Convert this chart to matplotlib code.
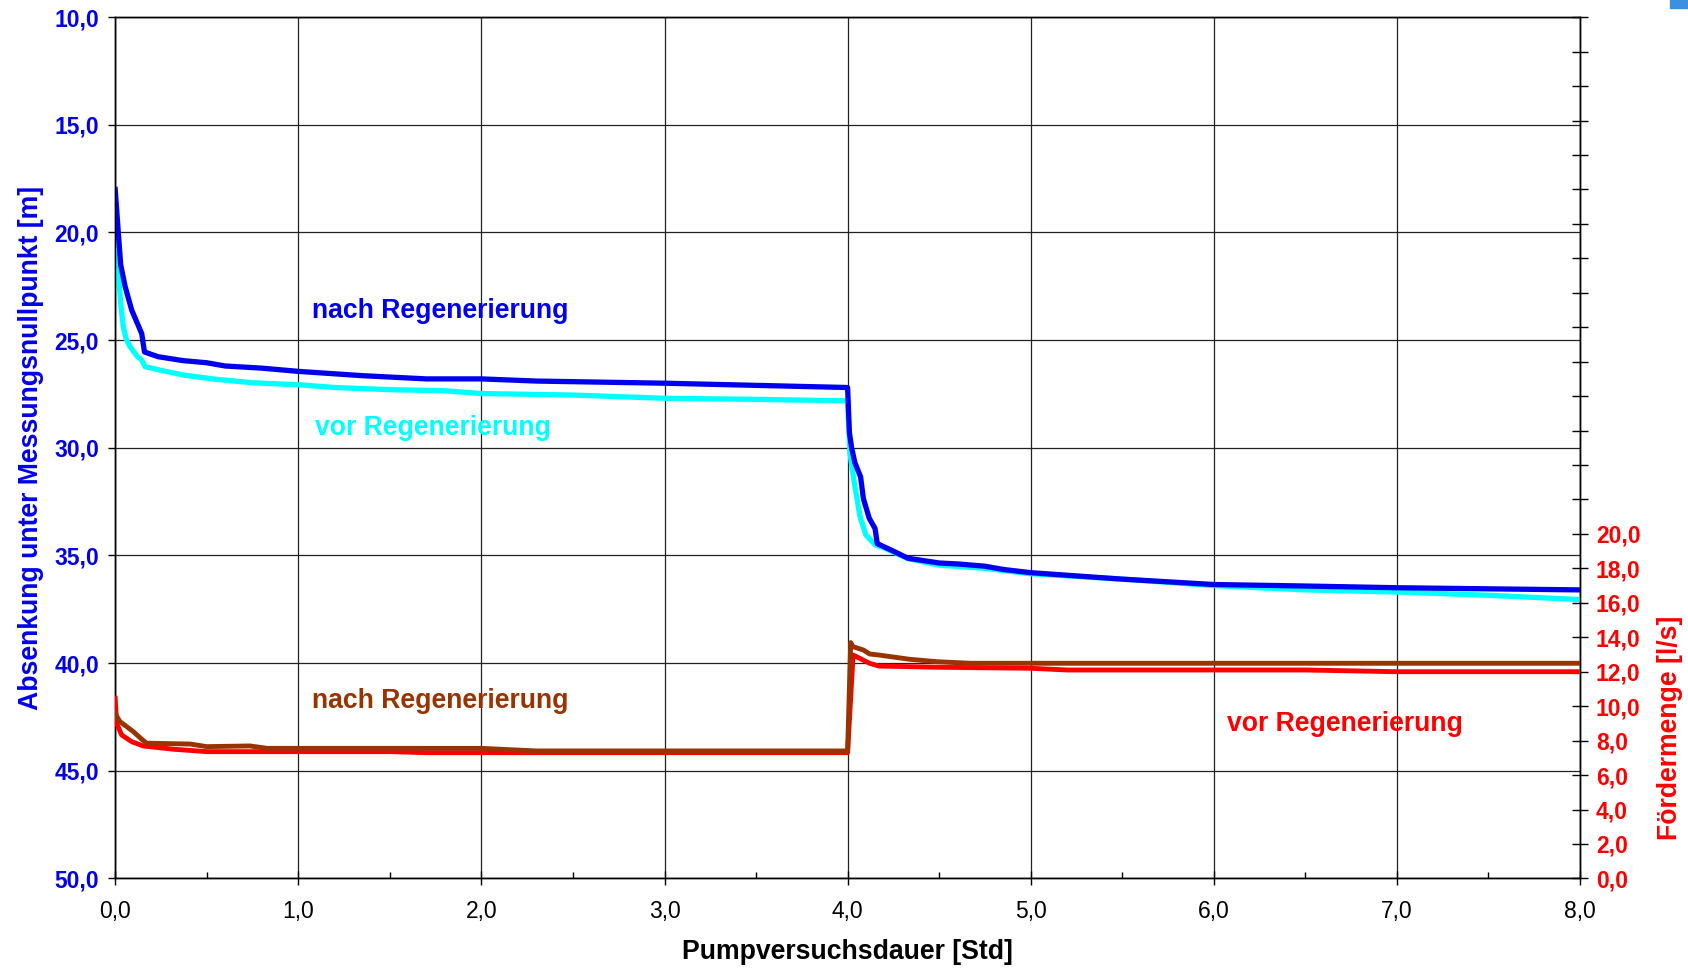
import matplotlib
matplotlib.use("Agg")
import matplotlib.pyplot as plt
from matplotlib.ticker import MultipleLocator, FixedLocator, FuncFormatter
from matplotlib.patches import Rectangle

plt.rcParams['font.family'] = ['Liberation Sans', 'DejaVu Sans']

# ---- data (time in hours) ----
t_nach_abs = [0.0, 0.017, 0.03, 0.054, 0.09, 0.12, 0.145, 0.16, 0.235, 0.37, 0.5, 0.6, 0.8,
              1.0, 1.35, 1.7, 2.0, 2.3, 3.0, 3.5, 4.0,
              4.01, 4.022, 4.04, 4.071, 4.086, 4.118, 4.15, 4.162, 4.25, 4.33, 4.5, 4.61,
              4.75, 4.85, 5.0, 5.5, 6.0, 6.5, 7.0, 7.5, 8.0]
abs_nach = [18.0, 20.0, 21.5, 22.5, 23.6, 24.2, 24.7, 25.55, 25.77, 25.95, 26.05, 26.2, 26.3,
            26.45, 26.65, 26.8, 26.8, 26.9, 27.0, 27.1, 27.2,
            29.3, 30.0, 30.7, 31.35, 32.35, 33.27, 33.75, 34.45, 34.8, 35.13, 35.35, 35.4,
            35.5, 35.65, 35.8, 36.1, 36.35, 36.42, 36.5, 36.55, 36.6]

t_vor_abs = [0.0, 0.017, 0.03, 0.044, 0.06, 0.081, 0.12, 0.145, 0.163, 0.25, 0.372, 0.554,
             0.75, 1.0, 1.2, 1.5, 1.8, 2.0, 2.5, 3.0, 3.5, 4.0,
             4.013, 4.04, 4.068, 4.10, 4.15, 4.2, 4.33, 4.5, 4.75, 5.0, 5.5, 6.0, 6.5,
             7.0, 7.5, 8.0]
abs_vor = [20.0, 21.74, 23.3, 24.37, 24.95, 25.3, 25.75, 25.92, 26.23, 26.4, 26.62, 26.82,
           26.98, 27.07, 27.2, 27.3, 27.35, 27.48, 27.55, 27.7, 27.75, 27.82,
           30.26, 31.8, 33.2, 34.05, 34.5, 34.65, 35.15, 35.45, 35.6, 35.85, 36.1, 36.4, 36.6,
           36.7, 36.85, 37.05]

t_nach_q = [0.0, 0.004, 0.026, 0.063, 0.099, 0.145, 0.172, 0.41, 0.5, 0.736, 0.83, 2.0, 2.3,
            4.0, 4.017, 4.03, 4.086, 4.12, 4.17, 4.34, 4.49, 4.67, 8.0]
q_nach = [9.6, 9.49, 9.1, 8.81, 8.52, 8.08, 7.85, 7.8, 7.65, 7.69, 7.55, 7.55, 7.4,
          7.4, 13.69, 13.45, 13.26, 13.03, 12.97, 12.72, 12.58, 12.49, 12.49]

t_vor_q = [0.0, 0.008, 0.035, 0.09, 0.153, 0.317, 0.5, 1.5, 1.7, 4.0,
           4.03, 4.12, 4.17, 4.49, 5.0, 5.2, 6.5, 7.0, 8.0]
q_vor = [10.46, 9.0, 8.33, 7.94, 7.69, 7.5, 7.36, 7.36, 7.3, 7.3,
         12.97, 12.49, 12.33, 12.26, 12.2, 12.1, 12.1, 12.0, 12.0]

x_ticks = [0, 1, 2, 3, 4, 5, 6, 7, 8]
left_ticks = [10, 15, 20, 25, 30, 35, 40, 45, 50]
right_ticks = list(range(0, 51, 2))
right_labeled_max = 20

BLUE = '#0000EE'
CYAN = '#00FFFF'
RED = '#FF0000'
BROWN = '#993300'

AX_L, AX_R, AX_T, AX_B = 115.2, 1580.0, 17.2, 878.4
AX_W, AX_H = AX_R - AX_L, AX_B - AX_T

fig = plt.figure(figsize=(16.88, 9.69), dpi=100)
ax = fig.add_axes([AX_L / 1688, 1 - AX_B / 969, AX_W / 1688, AX_H / 969])
ax2 = ax.twinx()

ax.plot(t_vor_abs, abs_vor, color=CYAN, lw=3.8, zorder=3)
ax.plot(t_nach_abs, abs_nach, color=BLUE, lw=3.8, zorder=4)
ax2.plot(t_vor_q, q_vor, color=RED, lw=3.5, zorder=3)
ax2.plot(t_nach_q, q_nach, color=BROWN, lw=3.5, zorder=4)

ax.set_xlim(0, 8)
ax.set_ylim(50, 10)
ax2.set_ylim(0, 50)

comma = FuncFormatter(lambda v, p: f"{v:.1f}".replace('.', ','))
ax.xaxis.set_major_locator(FixedLocator(x_ticks))
ax.xaxis.set_minor_locator(MultipleLocator(0.5))
ax.xaxis.set_major_formatter(comma)
ax.yaxis.set_major_locator(FixedLocator(left_ticks))
ax.yaxis.set_major_formatter(comma)
ax2.yaxis.set_major_locator(FixedLocator(right_ticks))
ax2.yaxis.set_major_formatter(FuncFormatter(
    lambda v, p: f"{v:.1f}".replace('.', ',') if v <= right_labeled_max + 1e-9 else ""))

ax.grid(True, which='major', color='#222222', lw=0.9)
ax.set_axisbelow(True)

TICK_FS = 16.5
ax.tick_params(axis='x', which='major', direction='inout', length=10, width=1,
               labelsize=TICK_FS, pad=10.5, colors='black')
ax.tick_params(axis='x', which='minor', direction='in', length=4, width=1)
ax.tick_params(axis='y', which='major', direction='out', length=5, width=1,
               labelsize=TICK_FS, pad=6.5, labelcolor=BLUE, color='black')
ax2.tick_params(axis='y', which='major', direction='inout', length=11, width=1,
                labelsize=TICK_FS, pad=6, labelcolor=RED, color='black')
for lab in ax.get_yticklabels() + ax2.get_yticklabels():
    lab.set_fontweight('bold')

for a in (ax, ax2):
    for s in a.spines.values():
        s.set_color('black')
        s.set_linewidth(1.0)

LAB_FS = 19.2
ax.set_xlabel('Pumpversuchsdauer [Std]', fontsize=LAB_FS, fontweight='bold')
ax.xaxis.set_label_coords(0.5, -(952 - AX_B) / AX_H)
ax.xaxis.label.set_va('center')
ax.set_ylabel('Absenkung unter Messungsnullpunkt [m]', fontsize=LAB_FS, fontweight='bold',
              color=BLUE)
ax.yaxis.set_label_coords(-(AX_L - 44) / AX_W, 0.5)
ax2.set_ylabel('Fördermenge [l/s]', fontsize=LAB_FS, fontweight='bold', color=RED)
ax2.yaxis.set_label_coords(1 + (1657 - AX_R) / AX_W, (AX_B - 728) / AX_H)

tk = dict(fontsize=LAB_FS, fontweight='bold', ha='left', va='center')
ax.text(1.075, 23.65, 'nach Regenerierung', color=BLUE, **tk)
ax.text(1.09, 29.08, 'vor Regenerierung', color=CYAN, **tk)
ax.text(1.075, 41.76, 'nach Regenerierung', color=BROWN, **tk)
ax.text(6.07, 42.83, 'vor Regenerierung', color=RED, **tk)

fig.patches.append(Rectangle((1670 / 1688, 1 - 8 / 969), 18 / 1688, 8 / 969,
                             transform=fig.transFigure, color='#3d8fe0'))

fig.savefig('out.png', dpi=100)
